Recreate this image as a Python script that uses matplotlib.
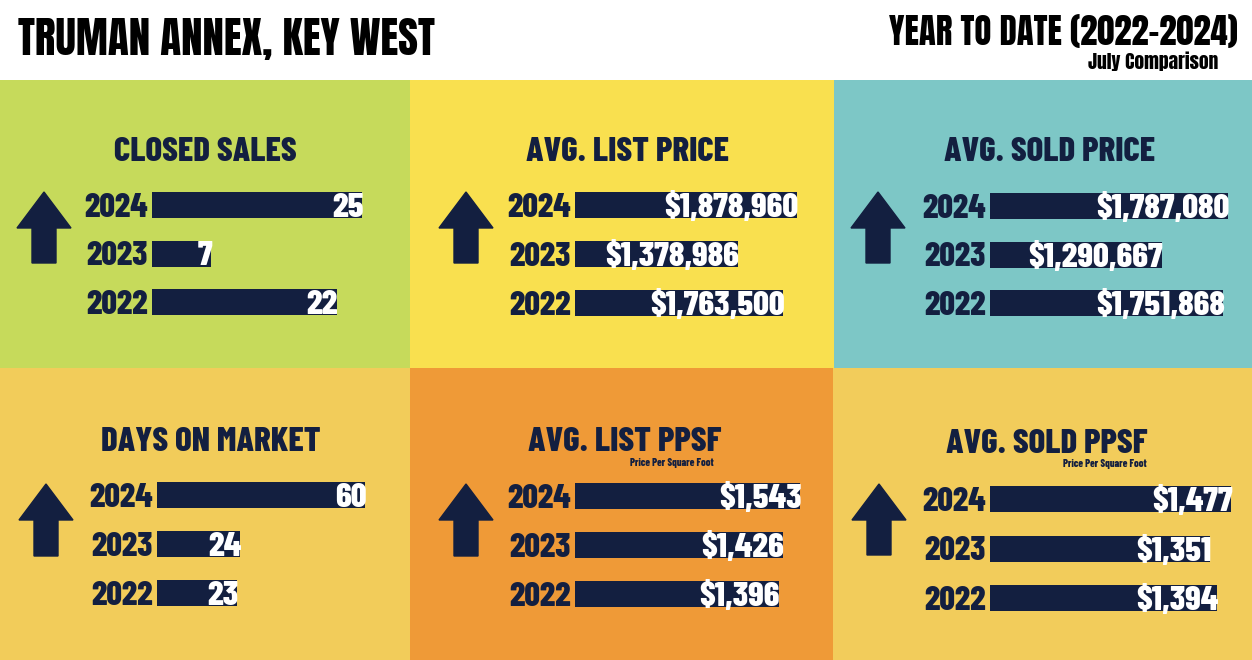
import matplotlib
matplotlib.use("Agg")
import matplotlib.pyplot as plt
from matplotlib.patches import Rectangle

W, H = 1252, 660
NAVY = "#131f40"
BODY = ["Barlow Condensed", "DejaVu Sans"]
HEAD = ["Anton", "DejaVu Sans"]
plt.rcParams["font.family"] = BODY
plt.rcParams["font.weight"] = 800

# --- data ---
years = ["2024", "2023", "2022"]
closed_sales = [25, 7, 22]
avg_list_price = [1878960, 1378986, 1763500]
avg_sold_price = [1787080, 1290667, 1751868]
days_on_market = [60, 24, 23]
avg_list_ppsf = [1543, 1426, 1396]
avg_sold_ppsf = [1477, 1351, 1394]

# --- layout (pixels): title x/y, bar start x, bar end x for max, row y's, arrow x, arrow base/top, bg box, colour
panels = [
    dict(title="CLOSED SALES", vals=closed_sales, fmt="{:,}", tx=205, ty=152, x0=152, x1=362,
         rows=(205, 254, 302), ax_=44, ab=263, at=192, box=(0, 80, 410, 288), bg="#c6da5b"),
    dict(title="AVG. LIST PRICE", vals=avg_list_price, fmt="${:,}", tx=627, ty=152, x0=575, x1=797,
         rows=(205, 255, 303), ax_=466, ab=263, at=192, box=(410, 80, 424, 288), bg="#f9e04f"),
    dict(title="AVG. SOLD PRICE", vals=avg_sold_price, fmt="${:,}", tx=1050, ty=152, x0=990, x1=1228,
         rows=(206, 255, 303), ax_=878, ab=263, at=192, box=(834, 80, 418, 288), bg="#7dc7c6"),
    dict(title="DAYS ON MARKET", vals=days_on_market, fmt="{:,}", tx=211, ty=442, x0=157, x1=365,
         rows=(495, 545, 593), ax_=46, ab=556, at=484, box=(0, 368, 410, 292), bg="#f2cc5a"),
    dict(title="AVG. LIST PPSF", vals=avg_list_ppsf, fmt="${:,}", tx=625, ty=442, x0=575, x1=800,
         rows=(496, 545, 594), ax_=466, ab=556, at=484, box=(410, 368, 423, 292), bg="#ef9a37",
         sub=(714, 463)),
    dict(title="AVG. SOLD PPSF", vals=avg_sold_ppsf, fmt="${:,}", tx=1047, ty=444, x0=990, x1=1231,
         rows=(499, 548, 598), ax_=879, ab=555, at=484, box=(833, 368, 419, 292), bg="#f2cc5b",
         sub=(1147, 464)),
]

fig = plt.figure(figsize=(W / 100, H / 100), dpi=100)
fig.patch.set_facecolor("white")

# overlay axes in pixel units for backgrounds and arrows
base = fig.add_axes([0, 0, 1, 1])
base.set_xlim(0, W); base.set_ylim(H, 0); base.axis("off")

fig.text(18 / W, 1 - 39 / H, "TRUMAN ANNEX, KEY WEST", fontsize=31, color="black",
         ha="left", va="center", family=HEAD, fontweight="normal")
fig.text(1238 / W, 1 - 32 / H, "YEAR TO DATE (2022\u20132024)", fontsize=25, color="black",
         ha="right", va="center", family=HEAD, fontweight="normal")
fig.text(1218 / W, 1 - 61 / H, "July Comparison", fontsize=14, color="black",
         ha="right", va="center", family=HEAD, fontweight="normal")

for p in panels:
    bx, by, bw, bh = p["box"]
    base.add_patch(Rectangle((bx, by), bw, bh, facecolor=p["bg"], edgecolor="none", zorder=0))
    base.arrow(p["ax_"], p["ab"], 0, p["at"] - p["ab"], width=24, head_width=54, head_length=36,
               length_includes_head=True, color=NAVY, zorder=2)
    fig.text(p["tx"] / W, 1 - p["ty"] / H, p["title"], fontsize=25, color=NAVY,
             ha="center", va="center")
    if "sub" in p:
        fig.text(p["sub"][0] / W, 1 - p["sub"][1] / H, "Price Per Square Foot", fontsize=7.5,
                 color=NAVY, ha="right", va="center")

    r = p["rows"]
    step = (r[2] - r[0]) / 2
    top, bot = r[0] - step / 2, r[2] + step / 2
    ax = fig.add_axes([p["x0"] / W, 1 - bot / H, (p["x1"] - p["x0"]) / W, (bot - top) / H])
    vals = p["vals"]
    ax.barh(range(3), vals, height=26 / step, color=NAVY)
    ax.set_xlim(0, max(vals))
    ax.set_ylim(2.5, -0.5)
    ax.axis("off")
    for i, (yr, v) in enumerate(zip(years, vals)):
        ax.annotate(yr, (0, i), xytext=(-3, -2), textcoords="offset points", ha="right",
                    va="center", fontsize=24.5, color=NAVY)
        ax.annotate(p["fmt"].format(v), (v, i), xytext=(1, -2), textcoords="offset points",
                    ha="right", va="center", fontsize=25, color="white")

fig.savefig("out.png", dpi=100, facecolor="white")
